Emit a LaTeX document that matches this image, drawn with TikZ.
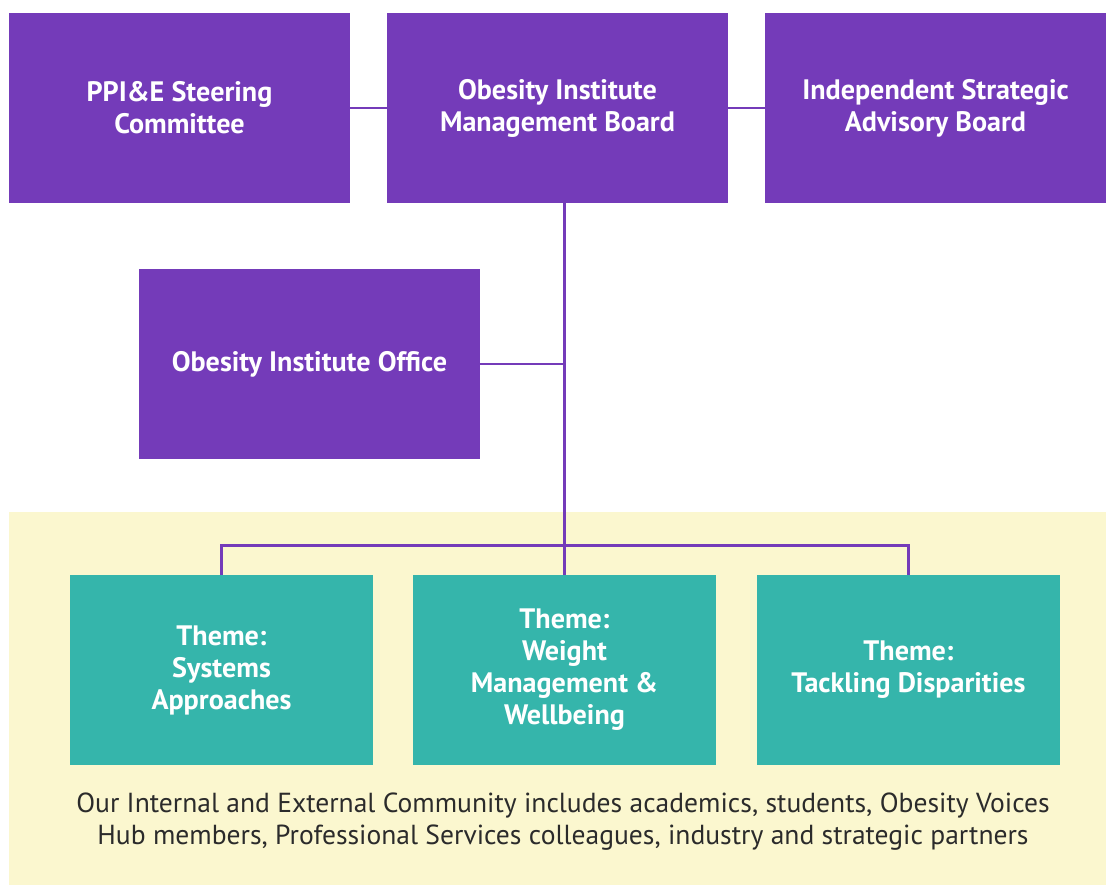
\documentclass[tikz,border=0pt]{standalone}
\usepackage{fontspec}
\setmainfont{PT Sans}
\usetikzlibrary{positioning}
\definecolor{violetOI}{HTML}{743BB9}
\definecolor{turquoise}{HTML}{35B5AB}
\definecolor{jaune}{HTML}{FBF7CF}
\definecolor{texte}{HTML}{2B2B2B}
\begin{document}
\begin{tikzpicture}[x=0.025cm,y=-0.025cm]
% Styles
\tikzstyle{cadre}=[fill=violetOI,text=white,font=\bfseries\fontsize{20}{22.76}\selectfont,align=center,minimum width=8.525cm,minimum height=4.75cm,inner sep=0pt]
\tikzstyle{theme}=[cadre,fill=turquoise,minimum width=7.575cm]
\tikzstyle{lien}=[violetOI,line width=2.1pt]
% Fond
\useasboundingbox (0,0) rectangle (1112,885);
\fill[jaune] (9,512) rectangle (1106,885);
% Ligne du haut
\node[cadre] (comite) at (179.5,108) {PPI\&E Steering\\Committee};
\node[cadre] (conseil) at (557.5,108) {Obesity Institute\\Management Board};
\node[cadre] (strategie) at (935.5,108) {Independent Strategic\\Advisory Board};
% Bureau
\node[cadre] (bureau) at (309.5,364) {Obesity Institute Office};
% Themes
\node[theme] (systemes) at (221.5,670) {Theme:\\Systems\\Approaches};
\node[theme] (poids) at (564.5,670) {Theme:\\Weight\\Management \&\\Wellbeing};
\node[theme] (disparites) at (908.5,670) {Theme:\\Tackling Disparities};
% Communaute
\node[text=texte,font=\fontsize{19.6}{22.76}\selectfont,align=center] (communaute) at (563,822) {Our Internal and External Community includes academics, students, Obesity Voices\\Hub members, Professional Services colleagues, industry and strategic partners};
% Liens
\draw[lien] (comite) -- (conseil);
\draw[lien] (conseil) -- (strategie);
\draw[lien] (conseil.south -| poids.north) -- (poids.north);
\draw[lien] (bureau.east) -- (bureau.east -| poids.north);
\draw[lien] (systemes.north) -- ++(0,-29) -| (disparites.north);
\end{tikzpicture}
\end{document}
